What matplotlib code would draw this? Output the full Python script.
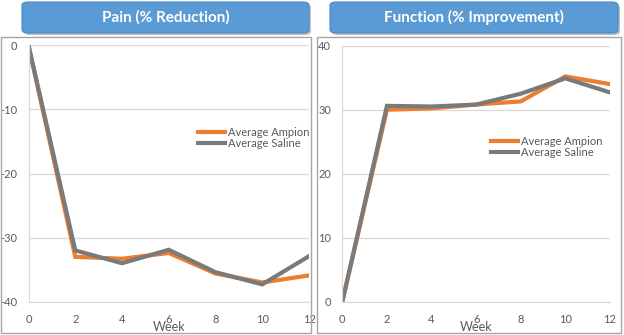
import matplotlib.pyplot as plt
from matplotlib.patches import Rectangle, FancyBboxPatch

# Data
weeks = [0, 2, 4, 6, 8, 10, 12]
pain_ampion = [0, -33.0, -33.3, -32.4, -35.6, -37.0, -35.9]
pain_saline = [0, -32.0, -34.0, -31.9, -35.4, -37.3, -32.9]
func_ampion = [0, 30.0, 30.2, 30.8, 31.3, 35.2, 34.0]
func_saline = [0, 30.6, 30.5, 30.8, 32.5, 34.9, 32.7]
series_names = ['Average Ampion', 'Average Saline']
titles = ['Pain (% Reduction)', 'Function (% Improvement)']

W, H = 624, 335
ORANGE = '#ED7D31'
GRAY = '#7A7A7A'
BLUE = '#5B9BD5'
TXT = '#595959'
GRID = '#D9D9D9'

plt.rcParams['font.family'] = ['Lato', 'DejaVu Sans']
plt.rcParams['axes.unicode_minus'] = False

fig = plt.figure(figsize=(W / 100, H / 100), dpi=100)


def fx(px):
    return px / W


def fy(py):
    return 1 - py / H


def panel(title, px0, px1, title_x0, title_x1, ax_box, ylim, yticks, amp, sal, leg_xy):
    # outer panel border
    fig.patches.append(Rectangle((fx(px0), fy(333)), fx(px1 - px0), (333 - 37) / H,
                                 transform=fig.transFigure, fill=False,
                                 edgecolor='#A6A6A6', lw=1.0))
    # title box with shadow
    fig.patches.append(FancyBboxPatch((fx(title_x0 + 2), fy(35)), fx(title_x1 - title_x0), 31 / H,
                                      boxstyle='round,pad=0,rounding_size=0.01',
                                      transform=fig.transFigure, facecolor='#BFBFBF',
                                      edgecolor='none'))
    fig.patches.append(FancyBboxPatch((fx(title_x0), fy(33)), fx(title_x1 - title_x0), 31 / H,
                                      boxstyle='round,pad=0,rounding_size=0.01',
                                      transform=fig.transFigure, facecolor=BLUE,
                                      edgecolor='#4A8AC4', lw=0.8))
    fig.text(fx((title_x0 + title_x1) / 2), fy(17.5), title, color='white',
             fontsize=11, fontweight='bold', ha='center', va='center')

    x0, x1, ytop, ybot = ax_box
    ax = fig.add_axes([fx(x0), fy(ybot), fx(x1 - x0), (ybot - ytop) / H])
    ax.plot(weeks, amp, color=ORANGE, lw=3, label=series_names[0], solid_joinstyle='miter')
    ax.plot(weeks, sal, color=GRAY, lw=3, label=series_names[1], solid_joinstyle='miter')
    ax.set_xlim(0, 12)
    ax.set_ylim(*ylim)
    ax.set_xticks(weeks)
    ax.set_yticks(yticks)
    ax.grid(axis='y', color=GRID, lw=0.9)
    ax.set_axisbelow(True)
    for s in ['top', 'right']:
        ax.spines[s].set_visible(False)
    for s in ['left', 'bottom']:
        ax.spines[s].set_color(GRID)
        ax.spines[s].set_linewidth(0.9)
    ax.tick_params(length=0, labelsize=8, labelcolor=TXT)
    ax.tick_params(axis='x', pad=9)
    ax.tick_params(axis='y', pad=8)
    ax.set_xlabel('Week', fontsize=9, color=TXT, labelpad=-4)
    ax.xaxis.set_label_coords(0.5, -0.075)
    ax.legend(loc='upper left', bbox_to_anchor=(fx(leg_xy[0]), fy(leg_xy[1])),
              bbox_transform=fig.transFigure, frameon=False, fontsize=8,
              handlelength=2.45, handletextpad=0.25, labelspacing=0.0,
              labelcolor=TXT, borderpad=0, borderaxespad=0)
    return ax


panel(titles[0], 1, 311, 22, 309, (28.5, 309, 45.3, 301.7), (-40, 0), [-40, -30, -20, -10, 0],
      pain_ampion, pain_saline, (198, 127))
panel(titles[1], 317, 621, 330, 618, (342.3, 610, 45.7, 301.7), (0, 40), [0, 10, 20, 30, 40],
      func_ampion, func_saline, (491, 136))

fig.savefig('out.png', dpi=100)
